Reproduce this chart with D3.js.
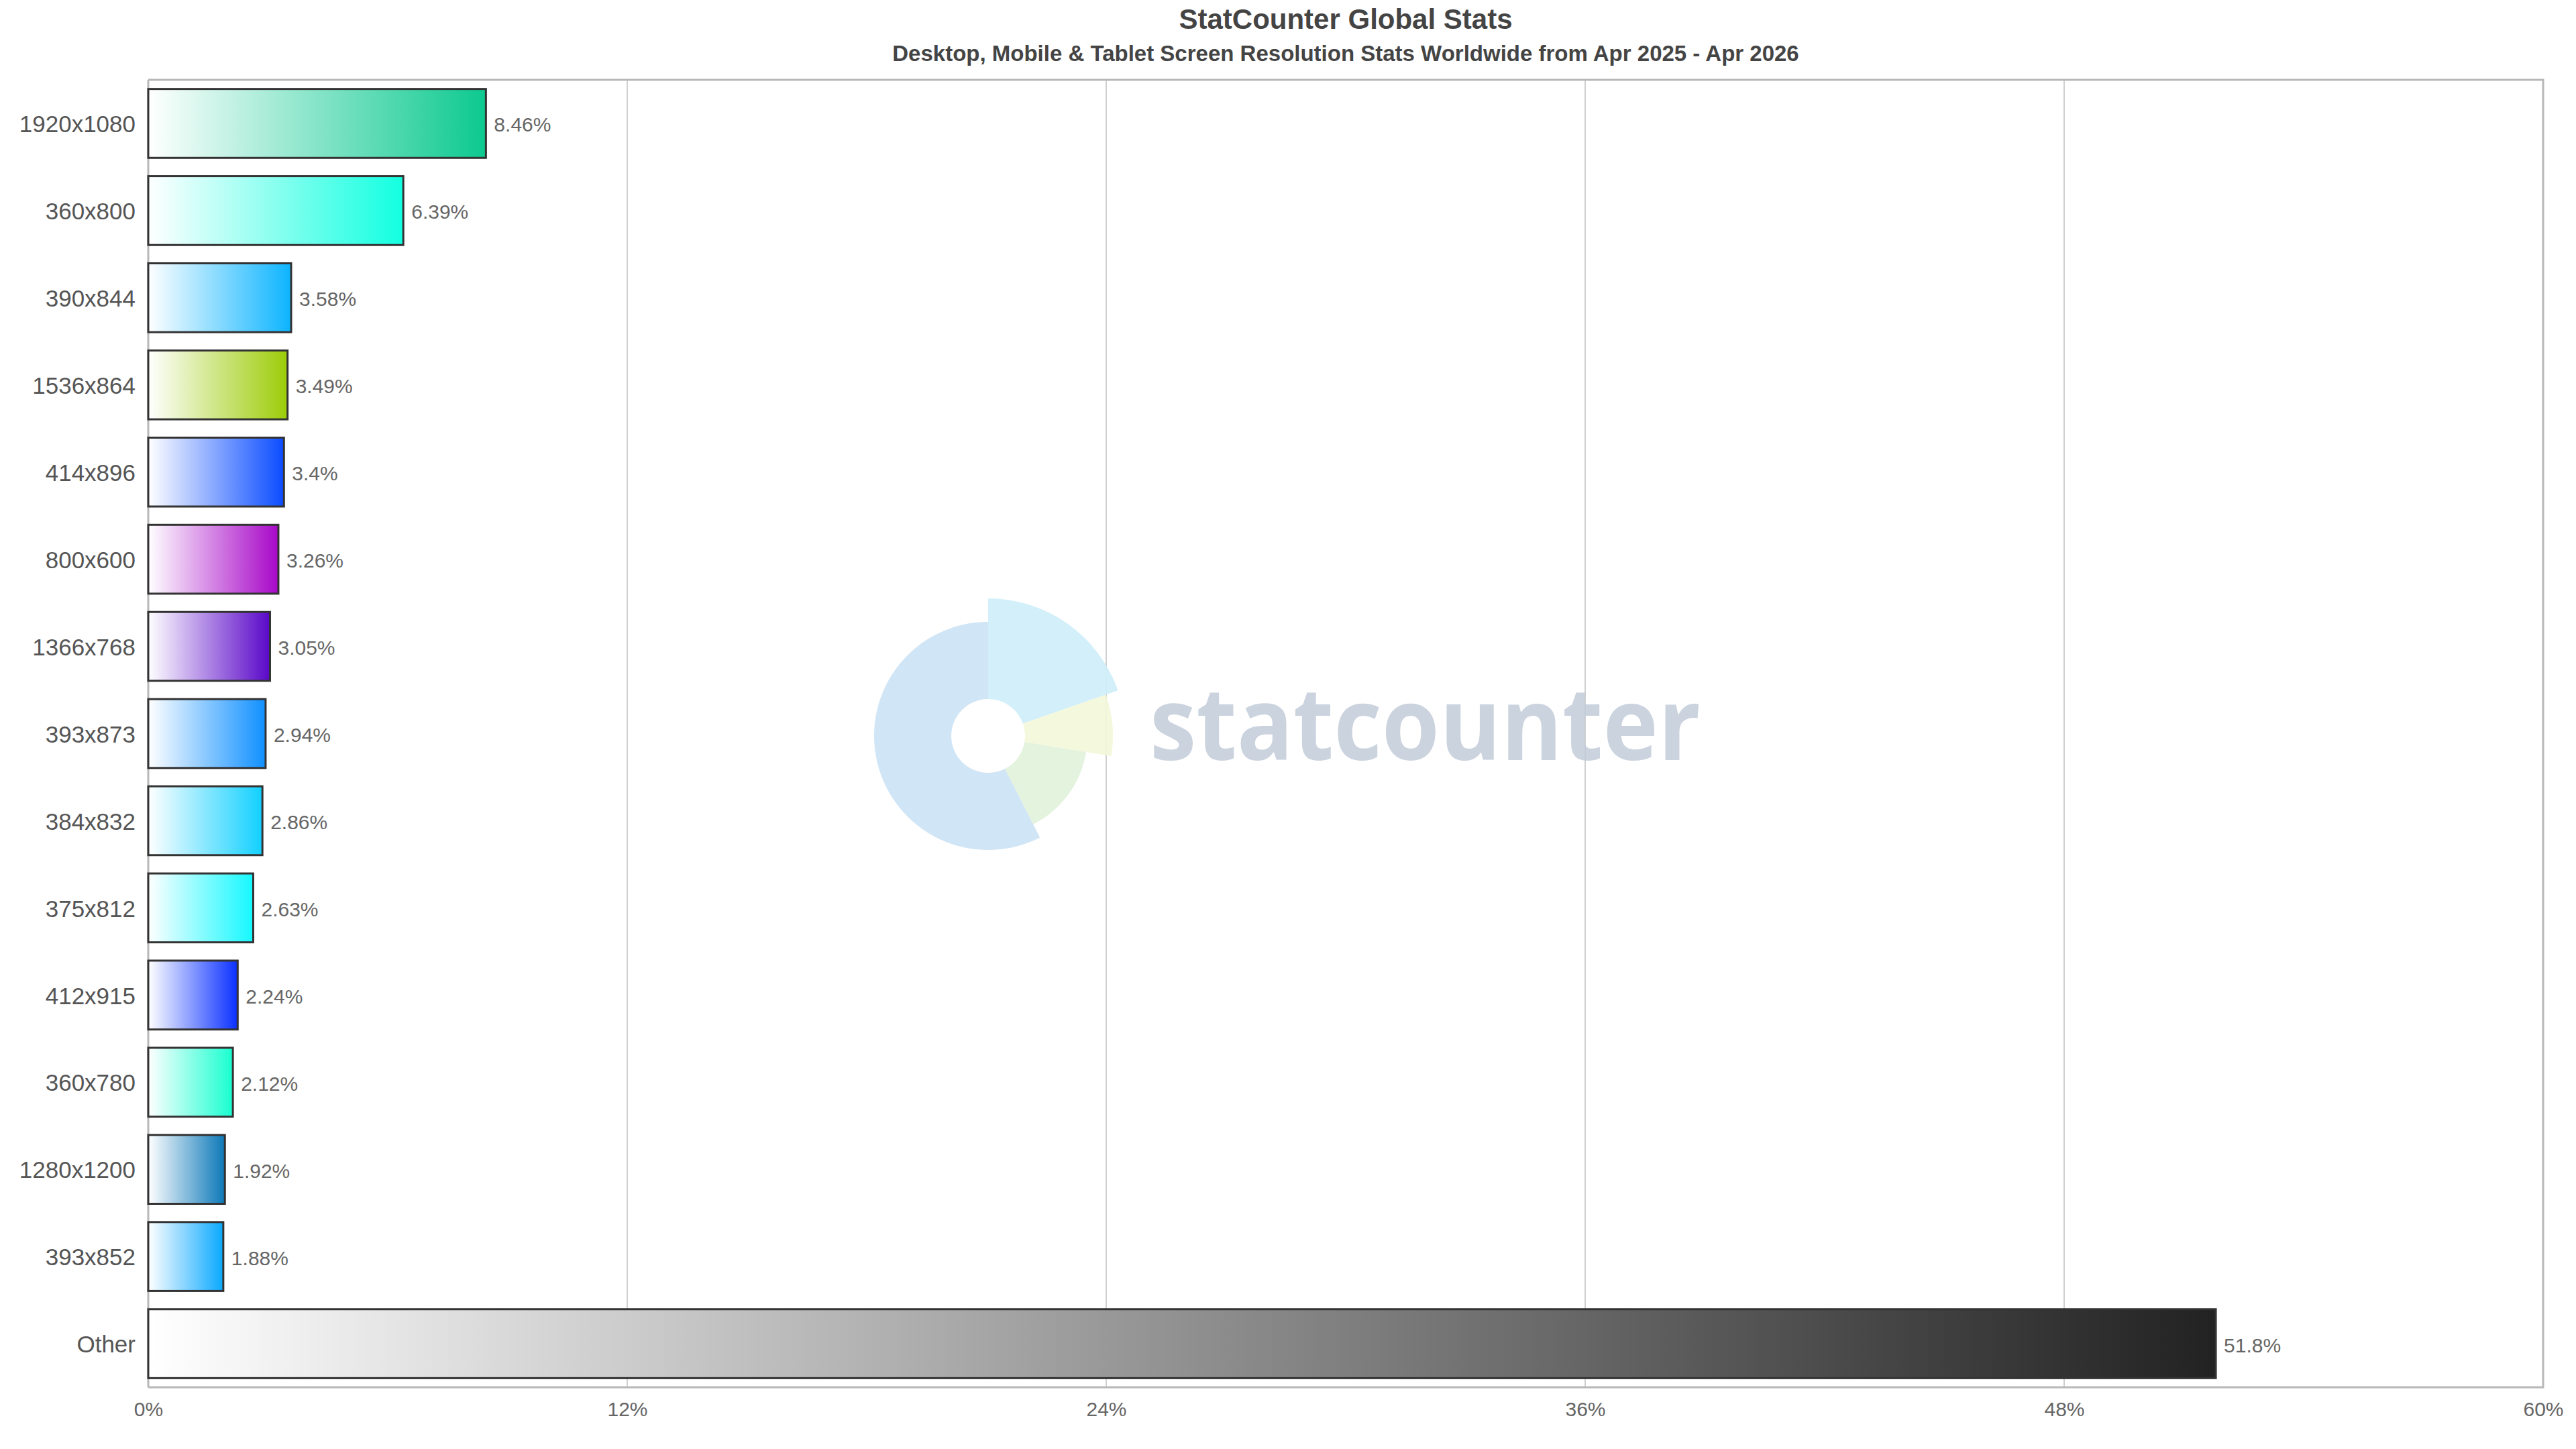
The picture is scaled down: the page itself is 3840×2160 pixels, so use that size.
<!DOCTYPE html>
<html>
<head>
<meta charset="utf-8">
<script src="https://cdn.jsdelivr.net/npm/d3@7"></script>
<style>
  html, body { margin: 0; padding: 0; background: #ffffff; }
  svg { display: block; font-family: "Liberation Sans", Arial, Helvetica, sans-serif; }
</style>
</head>
<body>
<svg id="chart" width="3840" height="2160"></svg>
<script>
// ---- data ----
const categories = ["1920x1080", "360x800", "390x844", "1536x864", "414x896", "800x600", "1366x768",
  "393x873", "384x832", "375x812", "412x915", "360x780", "1280x1200", "393x852", "Other"];
const values = [8.46, 6.39, 3.58, 3.49, 3.4, 3.26, 3.05, 2.94, 2.86, 2.63, 2.24, 2.12, 1.92, 1.88, 51.8];
const valueLabels = ["8.46%", "6.39%", "3.58%", "3.49%", "3.4%", "3.26%", "3.05%", "2.94%", "2.86%",
  "2.63%", "2.24%", "2.12%", "1.92%", "1.88%", "51.8%"];
const barColors = ["#0cc98f", "#12ffe0", "#0cb4ff", "#9ccc08", "#0a4cff", "#a808c8", "#5a08c8",
  "#1090ff", "#12d0ff", "#14f8ff", "#0a30ff", "#18ffd0", "#0c78b8", "#0aa8ff", "#222222"];
const xTicks = [0, 12, 24, 36, 48, 60];
const chartTitle = "StatCounter Global Stats";
const chartSubtitle = "Desktop, Mobile & Tablet Screen Resolution Stats Worldwide from Apr 2025 - Apr 2026";
// watermark logo slices (degrees, clockwise from top) and their colours
const logoStart = [0, 70.7, 99.3, 153];
const logoEnd = [70.7, 99.3, 153, 360];
const logoOuter = [205, 186, 148, 170];
const logoColors = ["#d0effa", "#f4f8da", "#e2f2dc", "#cde3f5"];

(function () {
// ---- layout ----
const svg = d3.select("#chart");
const pL = 221, pR = 3791, pT = 119, pB = 2068;

const x = d3.scaleLinear().domain([0, 60]).range([pL, pR]);
const y = d3.scaleBand().domain(categories).range([pT, pB]).paddingInner(0.21).paddingOuter(0.105);

// gradients
const defs = svg.append("defs");
categories.forEach((c, i) => {
  const g = defs.append("linearGradient").attr("id", "grad" + i)
    .attr("x1", "0%").attr("x2", "100%").attr("y1", "0%").attr("y2", "0%");
  g.append("stop").attr("offset", "0%").attr("stop-color", "#ffffff");
  g.append("stop").attr("offset", "100%").attr("stop-color", barColors[i]);
});

// gridlines
svg.append("g").selectAll("line").data(xTicks.slice(1, -1)).join("line")
  .attr("x1", d => x(d)).attr("x2", d => x(d))
  .attr("y1", pT).attr("y2", pB)
  .attr("stroke", "#d0d0d0").attr("stroke-width", 2);

// watermark logo
const cx = 1473, cy = 1097;
const logo = svg.append("g").attr("transform", `translate(${cx},${cy})`).attr("opacity", 0.92);
const arc = d3.arc();
logoStart.forEach((s, i) => {
  logo.append("path")
    .attr("d", arc({ innerRadius: 55, outerRadius: logoOuter[i],
      startAngle: s * Math.PI / 180, endAngle: logoEnd[i] * Math.PI / 180 }))
    .attr("fill", logoColors[i]);
});
svg.append("text")
  .attr("x", 1714).attr("y", 1133)
  .attr("textLength", 821).attr("lengthAdjust", "spacingAndGlyphs")
  .attr("font-family", "'Open Sans', 'Noto Sans', sans-serif")
  .attr("font-weight", "bold").attr("font-size", 150)
  .attr("fill", "#c3ccd9").attr("opacity", 0.85)
  .text("statcounter");

// plot border (top, right, bottom)
svg.append("path")
  .attr("d", `M${pL},${pT}H${pR}V${pB}H${pL}`)
  .attr("fill", "none").attr("stroke", "#b8b8b8").attr("stroke-width", 3);
svg.append("line").attr("x1", pL).attr("x2", pL).attr("y1", pT).attr("y2", pB)
  .attr("stroke", "#b8b8b8").attr("stroke-width", 3);

// bars
svg.append("g").selectAll("rect").data(categories).join("rect")
  .attr("x", x(0))
  .attr("y", d => y(d))
  .attr("width", (d, i) => x(values[i]) - x(0))
  .attr("height", y.bandwidth())
  .attr("fill", (d, i) => `url(#grad${i})`)
  .attr("stroke", "#333333").attr("stroke-width", 3);

// value labels
svg.append("g").selectAll("text").data(categories).join("text")
  .attr("x", (d, i) => x(values[i]) + 12)
  .attr("y", d => y(d) + y.bandwidth() / 2 + 2)
  .attr("dy", "0.35em")
  .attr("font-size", 30).attr("fill", "#666666")
  .text((d, i) => valueLabels[i]);

// y axis labels
const yAxis = d3.axisLeft(y).tickSize(0).tickPadding(19);
const gy = svg.append("g").attr("transform", `translate(${pL},2)`).call(yAxis);
gy.select(".domain").remove();
gy.selectAll("text").attr("font-size", 35).attr("fill", "#555555")
  .attr("font-family", "'Liberation Sans', Arial, sans-serif");

// x axis labels
const xAxis = d3.axisBottom(x).tickValues(xTicks).tickFormat(d => d + "%").tickSize(0).tickPadding(22);
const gx = svg.append("g").attr("transform", `translate(0,${pB})`).call(xAxis);
gx.select(".domain").remove();
gx.selectAll("text").attr("font-size", 30).attr("fill", "#666666")
  .attr("font-family", "'Liberation Sans', Arial, sans-serif");

// titles
const midX = (pL + pR) / 2;
svg.append("text").attr("x", midX).attr("y", 28).attr("dy", "0.35em")
  .attr("text-anchor", "middle").attr("font-size", 42).attr("font-weight", "bold")
  .attr("fill", "#444444").text(chartTitle);
svg.append("text").attr("x", midX).attr("y", 79).attr("dy", "0.35em")
  .attr("text-anchor", "middle").attr("font-size", 33).attr("font-weight", "bold")
  .attr("fill", "#444444").text(chartSubtitle);
})();
</script>
</body>
</html>
